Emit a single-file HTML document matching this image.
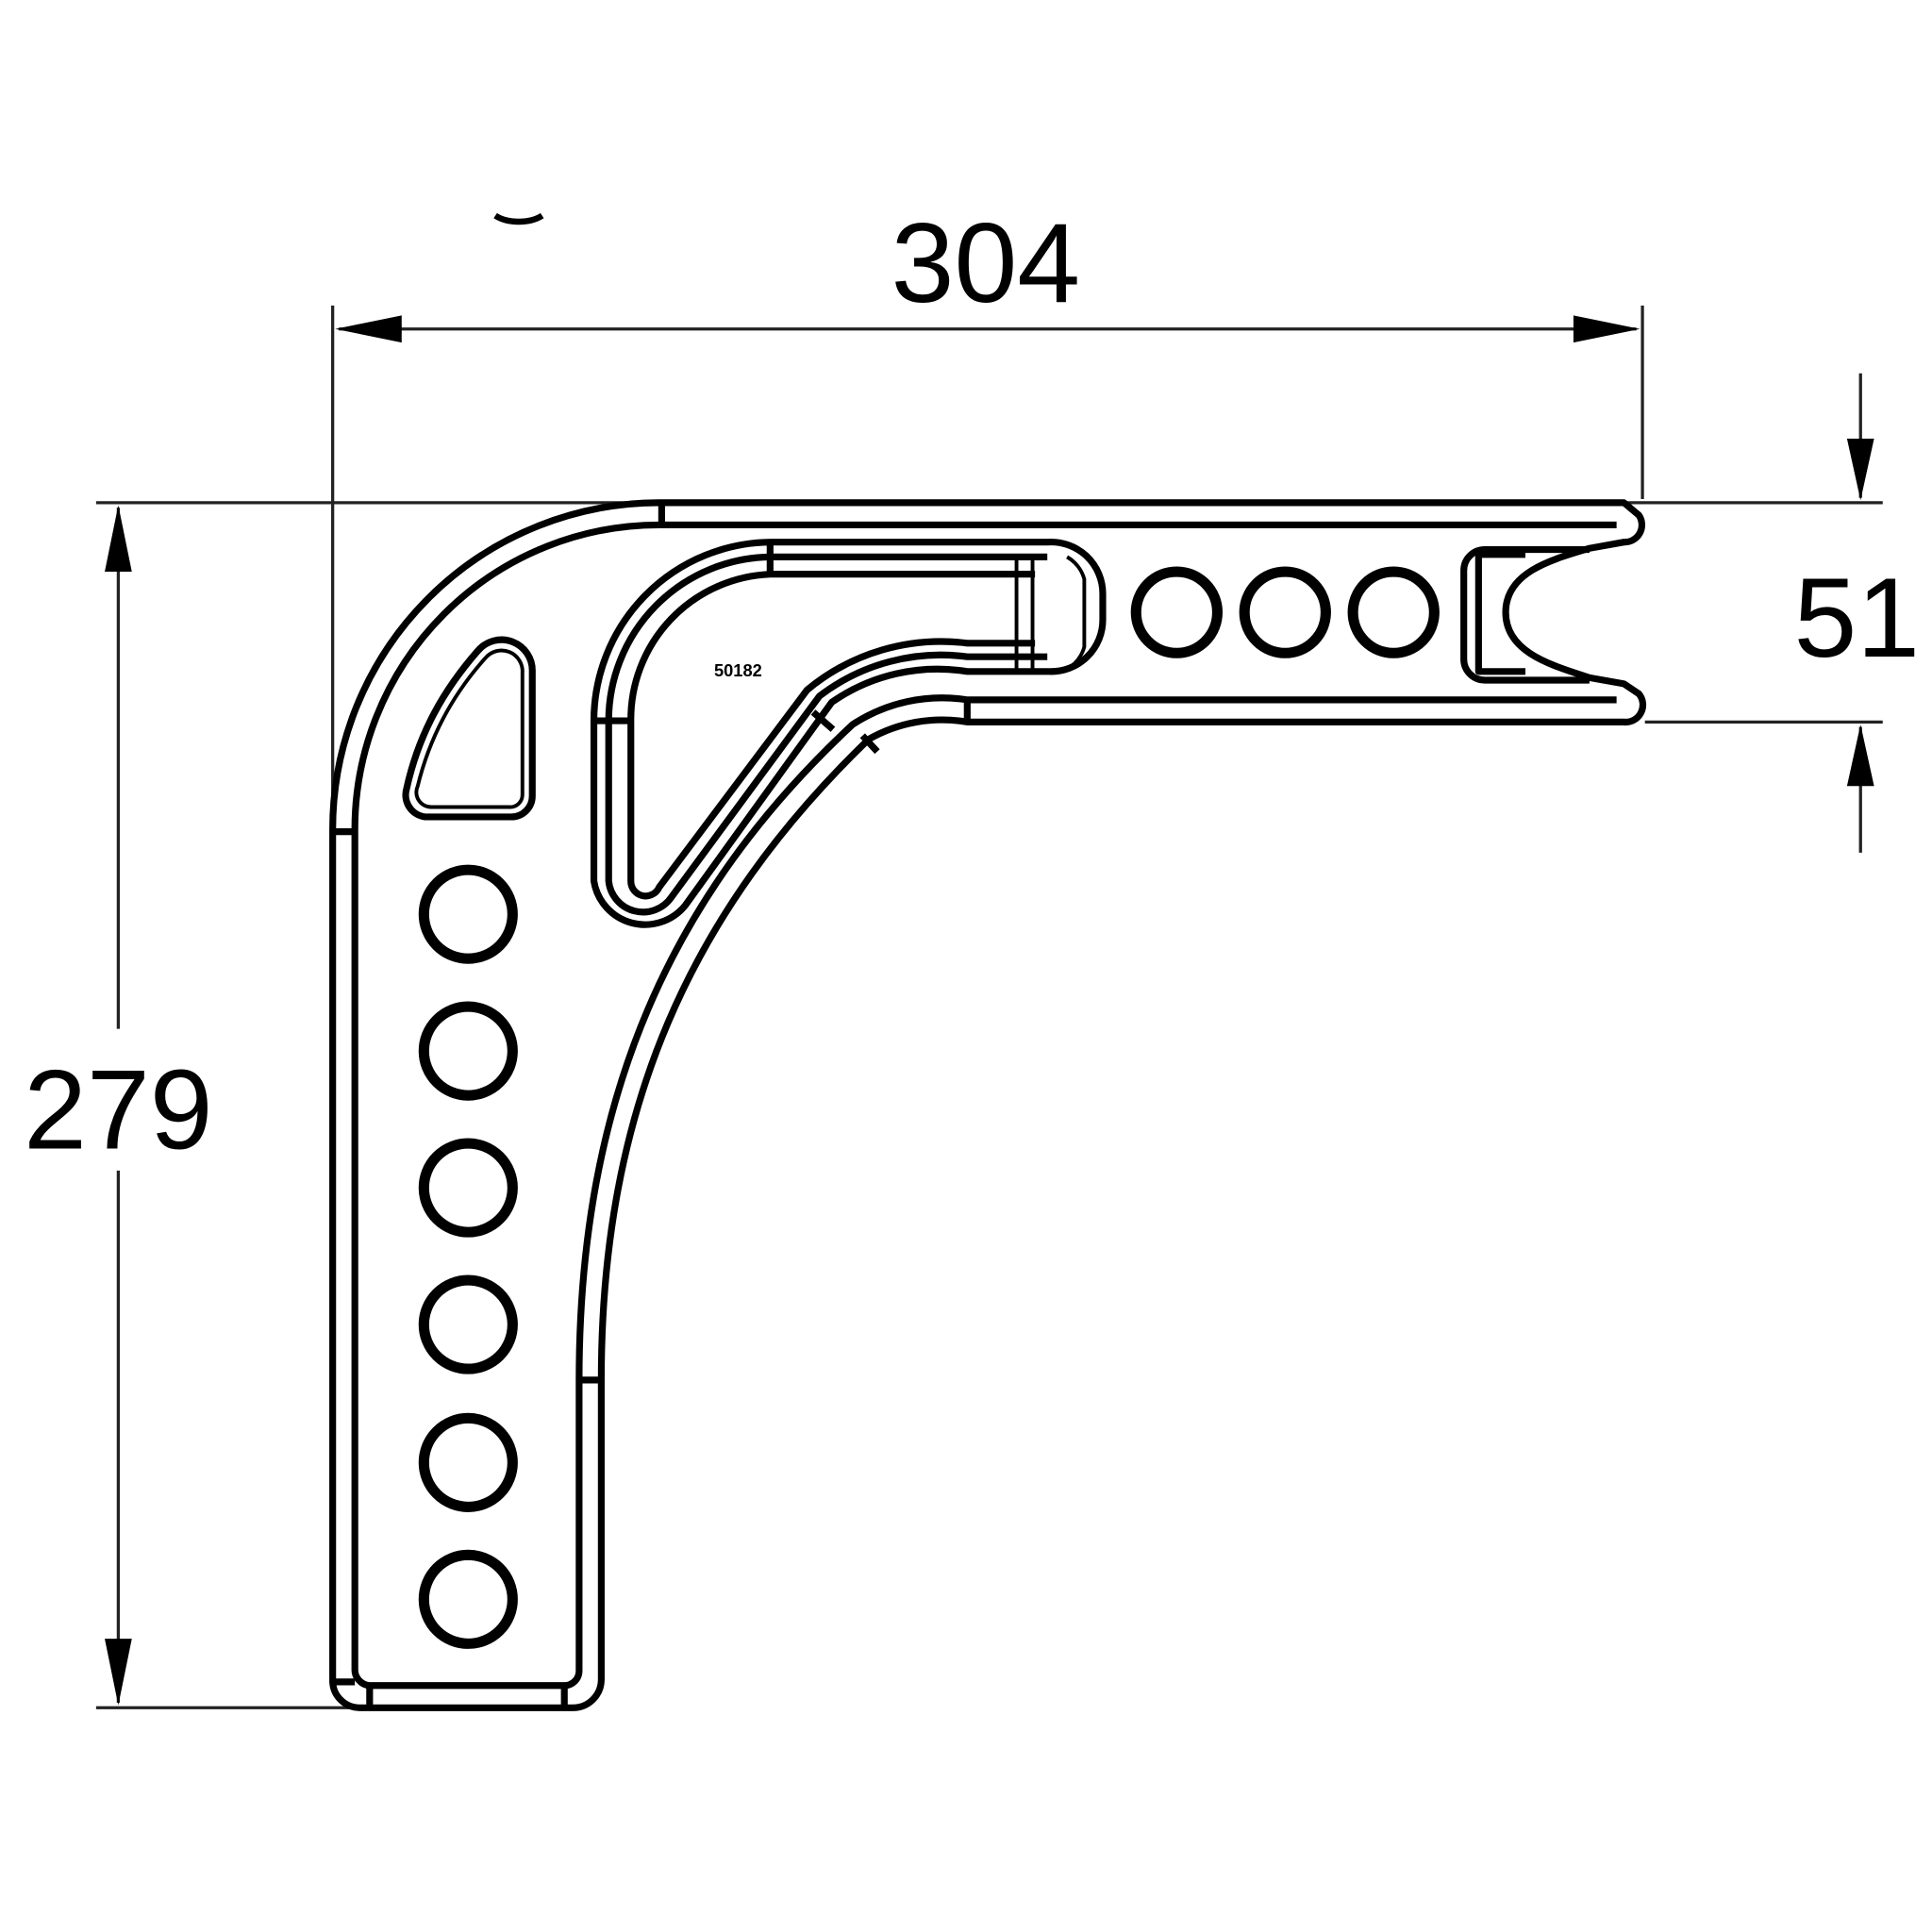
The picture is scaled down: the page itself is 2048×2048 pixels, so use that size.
<!DOCTYPE html>
<html><head><style>html,body{margin:0;padding:0;background:#fff}svg{display:block}</style></head>
<body>
<svg width="2048" height="2048" viewBox="0 0 1568 1568" xmlns="http://www.w3.org/2000/svg">
<g fill="none" stroke="#000">
<g stroke-width="2.5" stroke="#222">
<line x1="270" y1="248" x2="270" y2="680"/>
<line x1="1333" y1="248" x2="1333" y2="405"/>
<line x1="275" y1="267" x2="1328" y2="267"/>
<line x1="78" y1="408" x2="1528" y2="408"/>
<line x1="78" y1="1386" x2="290" y2="1386"/>
<line x1="96" y1="412" x2="96" y2="835"/>
<line x1="96" y1="950" x2="96" y2="1382"/>
<line x1="1335" y1="586" x2="1528" y2="586"/>
<line x1="1510" y1="303" x2="1510" y2="404"/>
<line x1="1510" y1="590" x2="1510" y2="692"/>
</g>
<g fill="#000" stroke="none">
<polygon points="272,267 326,256 326,278"/>
<polygon points="1331,267 1277,256 1277,278"/>
<polygon points="96,410 85,464 107,464"/>
<polygon points="96,1384 85,1330 107,1330"/>
<polygon points="1510,406 1499,356 1521,356"/>
<polygon points="1510,588 1499,638 1521,638"/>
</g>
<path d="M402 175 A25 14 0 0 0 440 175" stroke-width="5"/>

<g stroke-width="5.5" stroke-linejoin="round">
<path d="M1318 408 H535 A265 265 0 0 0 270 673 V1365 A22 22 0 0 0 292 1386 H465 A23 23 0 0 0 488 1363 V1120 C488 900 560 740 705 600 A120 120 0 0 1 785 586 H1318 A14 14 0 0 0 1330 563 L1318 555 L1290 550 C1260 540 1222 530 1222 497 C1222 464 1260 454 1290 445 L1318 440 A14 14 0 0 0 1330 418 Z"/>
<path d="M1312 426 H535 A247 247 0 0 0 288 673 V1355 A13 13 0 0 0 300 1368 H458 A12 12 0 0 0 470 1356 V1120 C470 890 545 725 692 588 A132 132 0 0 1 785 568 H1312"/>
<path d="M1290 446 H1205 A17 17 0 0 0 1188 463 V535 A17 17 0 0 0 1205 552 H1290"/>
<path d="M1238 450 H1200 V545 H1238"/>
<path d="M850 440 H625 A145 145 0 0 0 482 585 V715 A42 42 0 0 0 556 735 L675 570 A150 150 0 0 1 785 545 H852 A42 42 0 0 0 895 503 V482 A42 42 0 0 0 850 440 Z"/>
<path d="M850 452 H625 A133 133 0 0 0 494 585 V715 A28 28 0 0 0 545 728 L665 565 A162 162 0 0 1 785 533 H850"/>
<path d="M840 466 H625 A118 118 0 0 0 512 585 V715 A12 12 0 0 0 535 720 L655 560 A170 170 0 0 1 785 522 H840"/>
<path d="M825 452 V545 M838 452 V545 M866 452 A30 30 0 0 1 880 470 V525 A30 30 0 0 1 866 543" stroke-width="3"/>
<path d="M345 663 H415 A17 17 0 0 0 432 646 V545 A25 25 0 0 0 388 528 C360 560 340 595 330 640 A18 18 0 0 0 345 663 Z"/>
<path d="M350 655 H413 A10 10 0 0 0 424 645 V546 A17 17 0 0 0 394 534 C368 563 349 597 339 638 A12 12 0 0 0 350 655 Z" stroke-width="3"/>
<path d="M537 408 V426 M270 675 H288 M270 1365 H288 M470 1120 H488 M785 568 V586 M300 1368 V1386 M458 1368 V1386 M625 440 V466 M482 585 H512 M660 578 L676 592 M700 597 L712 610"/>
</g>
<g stroke-width="8.5">
<circle cx="380" cy="742" r="36"/>
<circle cx="380" cy="853" r="36"/>
<circle cx="380" cy="964" r="36"/>
<circle cx="380" cy="1075" r="36"/>
<circle cx="380" cy="1187" r="36"/>
<circle cx="380" cy="1298" r="36"/>
<circle cx="955" cy="497" r="33"/>
<circle cx="1043" cy="497" r="33"/>
<circle cx="1131" cy="497" r="33"/>
</g>
</g>
<g font-family="'Liberation Sans', sans-serif" fill="#000">
<text x="800" y="245" font-size="92" text-anchor="middle">304</text>
<text x="96" y="932" font-size="92" text-anchor="middle">279</text>
<text x="1507" y="533" font-size="92" text-anchor="middle">51</text>
<text x="599" y="549" font-size="14" font-weight="bold" text-anchor="middle">50182</text>
</g>
</svg>
</body></html>
